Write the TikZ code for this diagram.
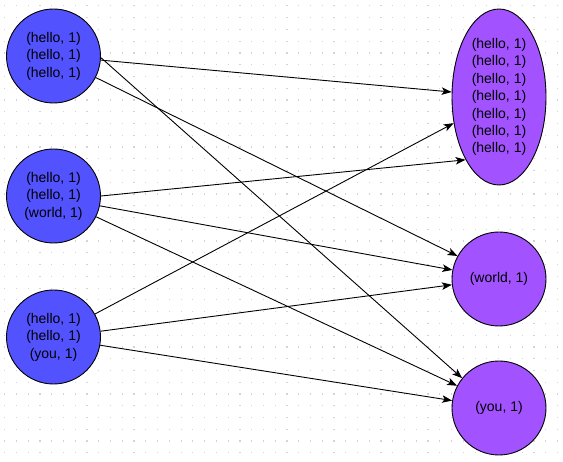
\documentclass[tikz,border=0pt]{standalone}
\usepackage{fontspec}
\setmainfont{Liberation Sans}
\usetikzlibrary{shapes.geometric,arrows.meta}
\definecolor{leftfill}{RGB}{82,82,255}
\definecolor{rightfill}{RGB}{162,82,255}
\definecolor{dotcol}{RGB}{212,212,212}
\begin{document}
\begin{tikzpicture}[x=1pt,y=-1pt,
  src/.style={circle,draw=black,fill=leftfill,line width=0.9pt,minimum size=94pt,inner sep=0pt,align=center,font=\fontsize{14}{17.4}\selectfont},
  dst/.style={draw=black,fill=rightfill,line width=0.9pt,inner sep=0pt,align=center,font=\fontsize{14}{17.4}\selectfont},
  conn/.style={line width=0.9pt,-{Stealth[length=10pt,width=7.5pt,inset=2.5pt]}}]
\fill[white] (0,0) rectangle (563,462);
\useasboundingbox (0,0) rectangle (563,462);
\foreach \i in {0,...,47}{
  \foreach \j in {0,...,38}{
    \fill[dotcol] ({4.1+11.76*\i},{5.3+11.76*\j}) rectangle ++(1.2,1.2);
  }
}
\node[src] (a1) at (53.5,56) {(hello, 1)\\(hello, 1)\\(hello, 1)};
\node[src] (a2) at (53.5,196) {(hello, 1)\\(hello, 1)\\(world, 1)};
\node[src] (a3) at (53.5,337) {(hello, 1)\\(hello, 1)\\(you, 1)};
\node[dst,ellipse,minimum width=94pt,minimum height=176pt] (r1) at (499,97)
  {(hello, 1)\\(hello, 1)\\(hello, 1)\\(hello, 1)\\(hello, 1)\\(hello, 1)\\(hello, 1)};
\node[dst,circle,minimum size=94pt] (r2) at (499,279) {(world, 1)};
\node[dst,circle,minimum size=94pt] (r3) at (499,408) {(you, 1)};
\draw[conn] (a1.-5) -- (r1.174);
\draw[conn] (a1.-27) -- (r2.151);
\draw[conn] (a1.-2.5) -- (r3.141);
\draw[conn] (a2.0) -- (r1.242);
\draw[conn] (a2.-12) -- (r2.169);
\draw[conn] (a2.-26) -- (r3.152);
\draw[conn] (a3.29) -- (r1.210);
\draw[conn] (a3.7) -- (r2.187);
\draw[conn] (a3.-10) -- (r3.171);
\end{tikzpicture}
\end{document}
